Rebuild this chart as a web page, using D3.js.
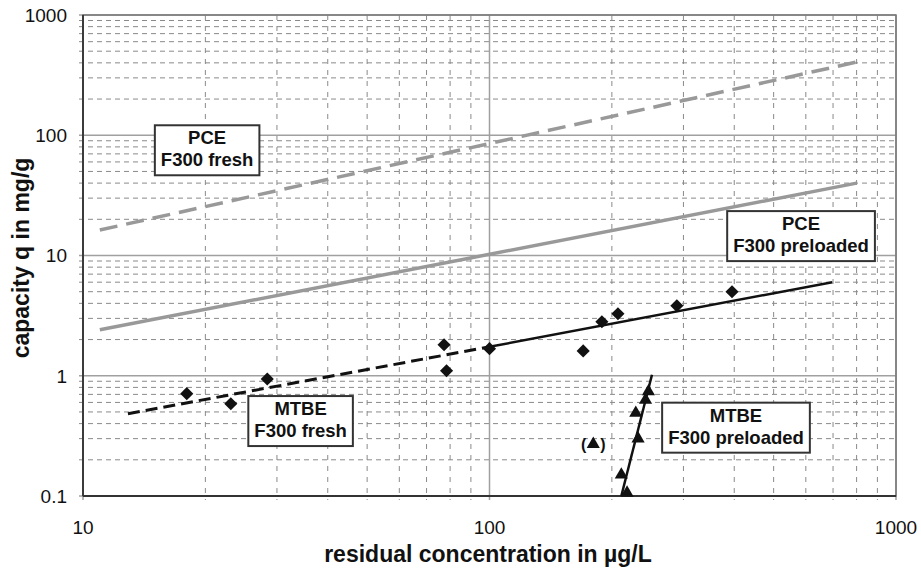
<!DOCTYPE html>
<html>
<head>
<meta charset="utf-8">
<script src="https://cdn.jsdelivr.net/npm/d3@7"></script>
<style>
  body { margin: 0; background: #fff; }
  svg { font-family: "Liberation Sans", Arial, sans-serif; }
</style>
</head>
<body>
<div id="chart"></div>
<script>
// tick values
const xMajor = [10, 100, 1000];
const yMajor = [0.1, 1, 10, 100, 1000];
const xTickLabels = ["10", "100", "1000"];
const yTickLabels = ["0.1", "1", "10", "100", "1000"];

// fitted isotherms (straight lines in log-log, endpoints)
const pceFresh = [[11, 16.3], [800, 406]];
const pcePreloaded = [[11, 2.41], [800, 40]];
const mtbeFreshDashed = [[12.9, 0.483], [100, 1.74]];
const mtbeFreshSolid = [[100, 1.74], [697, 6.0]];
const mtbePreloadedFit = [[211, 0.1], [251, 1.02]];

// measured points
const mtbeFreshC = [18, 23.1, 28.4, 77.3, 78.4, 100, 170, 189, 207, 289, 395];
const mtbeFreshQ = [0.71, 0.585, 0.94, 1.81, 1.10, 1.68, 1.61, 2.81, 3.28, 3.82, 5.0];
const mtbePreC = [218, 211, 232, 229, 242, 246];
const mtbePreQ = [0.106, 0.15, 0.30, 0.49, 0.63, 0.74];
const outlier = [180, 0.27];

// text boxes (centre position in data units)
const labels = [
  { lines: ["PCE", "F300 fresh"], c: 20.2, q: 75 },
  { lines: ["PCE", "F300 preloaded"], c: 584, q: 14.5 },
  { lines: ["MTBE", "F300 fresh"], c: 34.3, q: 0.42 },
  { lines: ["MTBE", "F300 preloaded"], c: 404, q: 0.37 }
];

const W = 921, H = 570;
const m = { left: 83, top: 15, right: 25, bottom: 74 };
const w = W - m.left - m.right, h = H - m.top - m.bottom;

const x = d3.scaleLog().domain([10, 1000]).range([0, w]);
const y = d3.scaleLog().domain([0.1, 1000]).range([h, 0]);

const svg = d3.select("#chart").append("svg")
  .attr("width", W).attr("height", H);
const g = svg.append("g").attr("transform", `translate(${m.left},${m.top})`);

const xMinor = [];
for (let d = 10; d < 1000; d *= 10) for (let k = 2; k <= 9; k++) xMinor.push(d * k);
const yMinor = [];
for (let d = 0.1; d < 999; d *= 10) for (let k = 2; k <= 9; k++) yMinor.push(+(d * k).toPrecision(3));

// minor grid
g.append("g").selectAll("line").data(yMinor).join("line")
  .attr("x1", -4).attr("x2", w)
  .attr("y1", d => y(d)).attr("y2", d => y(d))
  .attr("stroke", "#8a8a8a").attr("stroke-width", 1).attr("stroke-dasharray", "5,4");
g.append("g").selectAll("line").data(xMinor).join("line")
  .attr("x1", d => x(d)).attr("x2", d => x(d))
  .attr("y1", 0).attr("y2", h + 4)
  .attr("stroke", "#8a8a8a").attr("stroke-width", 1).attr("stroke-dasharray", "5,6");

// major grid
g.append("g").selectAll("line").data(yMajor).join("line")
  .attr("x1", -4).attr("x2", w)
  .attr("y1", d => y(d)).attr("y2", d => y(d))
  .attr("stroke", "#a0a0a0").attr("stroke-width", 1.5);
g.append("g").selectAll("line").data(xMajor).join("line")
  .attr("x1", d => x(d)).attr("x2", d => x(d))
  .attr("y1", 0).attr("y2", h + 4)
  .attr("stroke", "#a0a0a0").attr("stroke-width", 1.5);

// frame
g.append("rect").attr("width", w).attr("height", h)
  .attr("fill", "none").attr("stroke", "#777").attr("stroke-width", 1.5);
g.append("line").attr("x1", 0).attr("x2", 0).attr("y1", 0).attr("y2", h)
  .attr("stroke", "#333").attr("stroke-width", 1.8);
g.append("line").attr("x1", 0).attr("x2", w).attr("y1", h).attr("y2", h)
  .attr("stroke", "#333").attr("stroke-width", 1.8);

// tick labels
g.append("g").selectAll("text").data(yMajor).join("text")
  .attr("x", -16).attr("y", d => y(d)).attr("dy", "0.36em")
  .attr("text-anchor", "end").attr("font-size", 19).attr("fill", "#111")
  .text((d, i) => yTickLabels[i]);
g.append("g").selectAll("text").data(xMajor).join("text")
  .attr("x", d => x(d)).attr("y", h + 38)
  .attr("text-anchor", "middle").attr("font-size", 19).attr("fill", "#111")
  .text((d, i) => xTickLabels[i]);

// axis titles
svg.append("text").attr("x", 488).attr("y", 562)
  .attr("text-anchor", "middle").attr("font-size", 23).attr("font-weight", "bold").attr("fill", "#111")
  .text("residual concentration in µg/L");
svg.append("text").attr("transform", "translate(29,258) rotate(-90)")
  .attr("text-anchor", "middle").attr("font-size", 23).attr("font-weight", "bold").attr("fill", "#111")
  .text("capacity q in mg/g");

const line = d3.line().x(d => x(d[0])).y(d => y(d[1]));

g.append("path").attr("d", line(pceFresh)).attr("fill", "none")
  .attr("stroke", "#999").attr("stroke-width", 3.5).attr("stroke-dasharray", "18,9");
g.append("path").attr("d", line(pcePreloaded)).attr("fill", "none")
  .attr("stroke", "#999").attr("stroke-width", 3.5);
g.append("path").attr("d", line(mtbeFreshDashed)).attr("fill", "none")
  .attr("stroke", "#111").attr("stroke-width", 3).attr("stroke-dasharray", "12,6");
g.append("path").attr("d", line(mtbeFreshSolid)).attr("fill", "none")
  .attr("stroke", "#111").attr("stroke-width", 2.5);
g.append("path").attr("d", line(mtbePreloadedFit)).attr("fill", "none")
  .attr("stroke", "#111").attr("stroke-width", 2.5);

// points
const diamond = d3.symbol().type(d3.symbolDiamond2).size(110);
const tri = d3.symbol().type(d3.symbolTriangle).size(75);
g.append("g").selectAll("path").data(mtbeFreshC).join("path")
  .attr("d", diamond)
  .attr("transform", (d, i) => `translate(${x(d)},${y(mtbeFreshQ[i])})`)
  .attr("fill", "#111");
g.append("g").selectAll("path").data(mtbePreC).join("path")
  .attr("d", tri)
  .attr("transform", (d, i) => `translate(${x(d)},${y(mtbePreQ[i])})`)
  .attr("fill", "#111");
g.append("path").attr("d", tri)
  .attr("transform", `translate(${x(outlier[0])},${y(outlier[1])})`).attr("fill", "#111");
g.append("text").attr("x", x(outlier[0]) - 7).attr("y", y(outlier[1])).attr("dy", "0.36em")
  .attr("text-anchor", "end").attr("font-size", 16).attr("font-weight", "bold").attr("fill", "#111").text("(");
g.append("text").attr("x", x(outlier[0]) + 7).attr("y", y(outlier[1])).attr("dy", "0.36em")
  .attr("text-anchor", "start").attr("font-size", 16).attr("font-weight", "bold").attr("fill", "#111").text(")");

// label boxes
labels.forEach(l => {
  const cx = x(l.c), cy = y(l.q);
  const grp = g.append("g").attr("transform", `translate(${cx},${cy})`);
  const t = grp.append("text").attr("text-anchor", "middle")
    .attr("font-size", 18.5).attr("font-weight", "bold").attr("fill", "#111");
  l.lines.forEach((s, i) => t.append("tspan").attr("x", 0).attr("y", i === 0 ? -6 : 16).text(s));
  const bb = t.node().getBBox();
  grp.insert("rect", "text")
    .attr("x", bb.x - 6).attr("y", -25).attr("width", bb.width + 12).attr("height", 50)
    .attr("fill", "#fff").attr("stroke", "#333").attr("stroke-width", 2);
});
</script>
</body>
</html>
